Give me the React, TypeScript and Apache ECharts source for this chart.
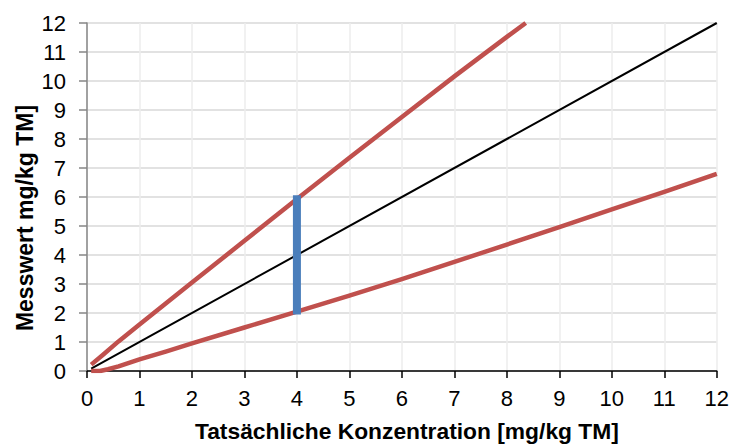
import React, { useEffect, useRef } from "react";
import * as echarts from "echarts";

const xTicks = [0, 1, 2, 3, 4, 5, 6, 7, 8, 9, 10, 11, 12];
const identityLine: [number, number][] = [
  [0.08, 0.08],
  [12, 12],
];
const upperLimit: [number, number][] = [
  [0.08, 0.22],
  [0.3, 0.55],
  [0.6, 1.02],
  [1, 1.6],
  [1.5, 2.33],
  [2, 3.05],
  [3, 4.49],
  [4, 5.93],
  [5, 7.35],
  [6, 8.76],
  [7, 10.16],
  [8, 11.52],
  [8.36, 12.0],
];
const lowerLimit: [number, number][] = [
  [0.08, 0.0],
  [0.25, 0.0],
  [0.4, 0.06],
  [0.6, 0.16],
  [1, 0.4],
  [1.5, 0.67],
  [2, 0.95],
  [3, 1.5],
  [4, 2.05],
  [5, 2.6],
  [6, 3.17],
  [7, 3.76],
  [8, 4.36],
  [9, 4.96],
  [10, 5.57],
  [11, 6.18],
  [12, 6.8],
];
const rangeBar: [number, number][] = [
  [4, 1.95],
  [4, 6.06],
];
const xName = "Tatsächliche Konzentration [mg/kg TM]";
const yName = "Messwert mg/kg TM]";

export default function App() {
  const ref = useRef<HTMLDivElement>(null);
  useEffect(() => {
    if (!ref.current) return;
    const chart = echarts.init(ref.current, undefined, { renderer: "svg" });
    const font = "Liberation Sans, Arial, sans-serif";
    chart.setOption({
      animation: false,
      backgroundColor: "#ffffff",
      textStyle: { fontFamily: font },
      grid: { left: 87, right: 15, top: 23, bottom: 70, containLabel: false },
      xAxis: {
        type: "value",
        min: xTicks[0],
        max: xTicks[xTicks.length - 1],
        interval: 1,
        name: xName,
        nameLocation: "middle",
        nameGap: 48,
        nameTextStyle: { fontSize: 22.8, fontWeight: "bold", color: "#000", fontFamily: font, padding: [0, 0, 0, 10] },
        axisLine: { show: true, lineStyle: { color: "#000", width: 1.5 } },
        axisTick: { show: true, length: 7, lineStyle: { color: "#000", width: 1.5 } },
        axisLabel: { fontSize: 22, color: "#000", margin: 16, fontFamily: font },
        splitLine: { show: true, lineStyle: { color: "#ececec", width: 1.5 } },
      },
      yAxis: {
        type: "value",
        min: 0,
        max: 12,
        interval: 1,
        axisLine: { show: true, lineStyle: { color: "#868686", width: 1.5 } },
        axisTick: { show: true, length: 8, lineStyle: { color: "#868686", width: 1.5 } },
        axisLabel: { fontSize: 22, color: "#000", margin: 21, fontFamily: font },
        splitLine: { show: true, lineStyle: { color: "#d9d9d9", width: 1.5 } },
      },
      graphic: [
        {
          type: "text",
          x: 25,
          y: 218,
          rotation: Math.PI / 2,
          style: {
            text: yName,
            fontSize: 23,
            fontWeight: "bold",
            fill: "#000",
            fontFamily: font,
            textAlign: "center",
            textVerticalAlign: "middle",
          },
        },
      ],
      series: [
        {
          type: "line",
          data: identityLine,
          symbol: "none",
          lineStyle: { color: "#000", width: 2 },
          silent: true,
          z: 3,
        },
        {
          type: "line",
          data: upperLimit,
          symbol: "none",
          smooth: false,
          lineStyle: { color: "#c0504d", width: 4.5, join: "round" },
          silent: true,
          z: 4,
        },
        {
          type: "line",
          data: lowerLimit,
          symbol: "none",
          smooth: false,
          lineStyle: { color: "#c0504d", width: 4.5, join: "round" },
          silent: true,
          z: 4,
        },
        {
          type: "line",
          data: rangeBar,
          symbol: "none",
          lineStyle: { color: "#4a7ebb", width: 8, cap: "butt" },
          silent: true,
          z: 5,
        },
      ],
    });
    return () => chart.dispose();
  }, []);
  return (
    <div
      ref={ref}
      style={{ position: "fixed", left: 0, top: 0, width: 732, height: 447, background: "#fff" }}
    />
  );
}
